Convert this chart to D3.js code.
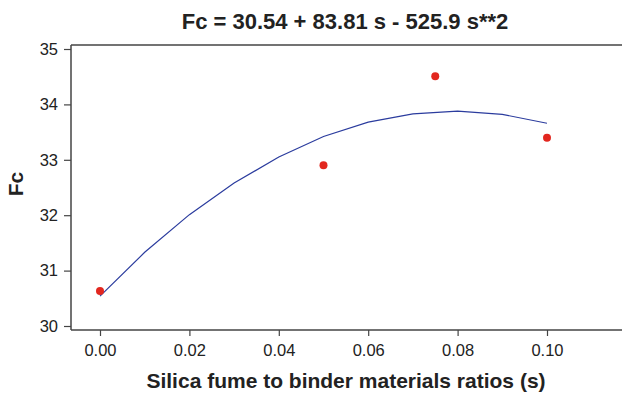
<!DOCTYPE html>
<html>
<head>
<meta charset="utf-8">
<script src="https://cdn.jsdelivr.net/npm/d3@7"></script>
<style>
  body { margin: 0; background: #fff; }
  svg { font-family: "Liberation Sans", Arial, sans-serif; }
</style>
</head>
<body>
<svg width="622" height="396"></svg>
<script>
// data
const obsS = [0.00, 0.05, 0.075, 0.10];
const obsFc = [30.63, 32.90, 34.51, 33.40];
const fitS = [0.00, 0.01, 0.02, 0.03, 0.04, 0.05, 0.06, 0.07, 0.08, 0.09, 0.10];
const fitFc = [30.54, 31.33, 32.01, 32.58, 33.05, 33.42, 33.68, 33.83, 33.88, 33.82, 33.66];
const xTicks = [0, 0.02, 0.04, 0.06, 0.08, 0.10];
const yTicks = [30, 31, 32, 33, 34, 35];

const svg = d3.select("svg");

// scales
const x = d3.scaleLinear().domain([0, 0.10]).range([100, 547]);
const y = d3.scaleLinear().domain([30, 35]).range([326, 49]);

const frameLeft = 71, frameTop = 45, frameBottom = 330, frameRight = 622;
const axisColor = "#444";

// frame lines
svg.append("line")
  .attr("x1", frameLeft).attr("x2", frameRight)
  .attr("y1", frameTop).attr("y2", frameTop)
  .attr("stroke", axisColor).attr("stroke-width", 1.5);
svg.append("line")
  .attr("x1", frameLeft).attr("x2", frameRight)
  .attr("y1", frameBottom).attr("y2", frameBottom)
  .attr("stroke", axisColor).attr("stroke-width", 1.5);
svg.append("line")
  .attr("x1", frameLeft).attr("x2", frameLeft)
  .attr("y1", frameTop).attr("y2", frameBottom)
  .attr("stroke", axisColor).attr("stroke-width", 1.5);

// y axis
const yAxis = svg.append("g")
  .attr("transform", `translate(${frameLeft},0)`)
  .call(d3.axisLeft(y).tickValues(yTicks).tickFormat(d3.format("d")).tickSize(7).tickPadding(6));
yAxis.select(".domain").remove();

// x axis
const xAxis = svg.append("g")
  .attr("transform", `translate(0,${frameBottom})`)
  .call(d3.axisBottom(x).tickValues(xTicks).tickFormat(d3.format(".2f")).tickSize(6).tickPadding(8));
xAxis.select(".domain").remove();

svg.selectAll(".tick line").attr("stroke", axisColor).attr("stroke-width", 1.2);
svg.selectAll(".tick text")
  .attr("fill", "#222")
  .style("font-size", "16.5px")
  .style("font-family", "'Liberation Sans', Arial, sans-serif");

// fitted curve
const line = d3.line()
  .x((d, i) => x(fitS[i]))
  .y(d => y(d));
svg.append("path")
  .datum(fitFc)
  .attr("d", line)
  .attr("fill", "none")
  .attr("stroke", "#2b3c9e")
  .attr("stroke-width", 1.2);

// observed points
svg.selectAll(".pt")
  .data(obsFc)
  .enter()
  .append("circle")
  .attr("class", "pt")
  .attr("cx", (d, i) => x(obsS[i]))
  .attr("cy", d => y(d))
  .attr("r", 4)
  .attr("fill", "#e2271f");

// title
svg.append("text")
  .attr("x", 345).attr("y", 29)
  .attr("text-anchor", "middle")
  .style("font-size", "22px").style("font-weight", "bold")
  .attr("fill", "#222")
  .text("Fc = 30.54 + 83.81 s - 525.9 s**2");

// axis titles
svg.append("text")
  .attr("x", 346).attr("y", 388)
  .attr("text-anchor", "middle")
  .style("font-size", "21px").style("font-weight", "bold")
  .attr("fill", "#222")
  .text("Silica fume to binder materials ratios (s)");

svg.append("text")
  .attr("transform", "translate(23,184) rotate(-90)")
  .attr("text-anchor", "middle")
  .style("font-size", "21px").style("font-weight", "bold")
  .attr("fill", "#222")
  .text("Fc");
</script>
</body>
</html>
